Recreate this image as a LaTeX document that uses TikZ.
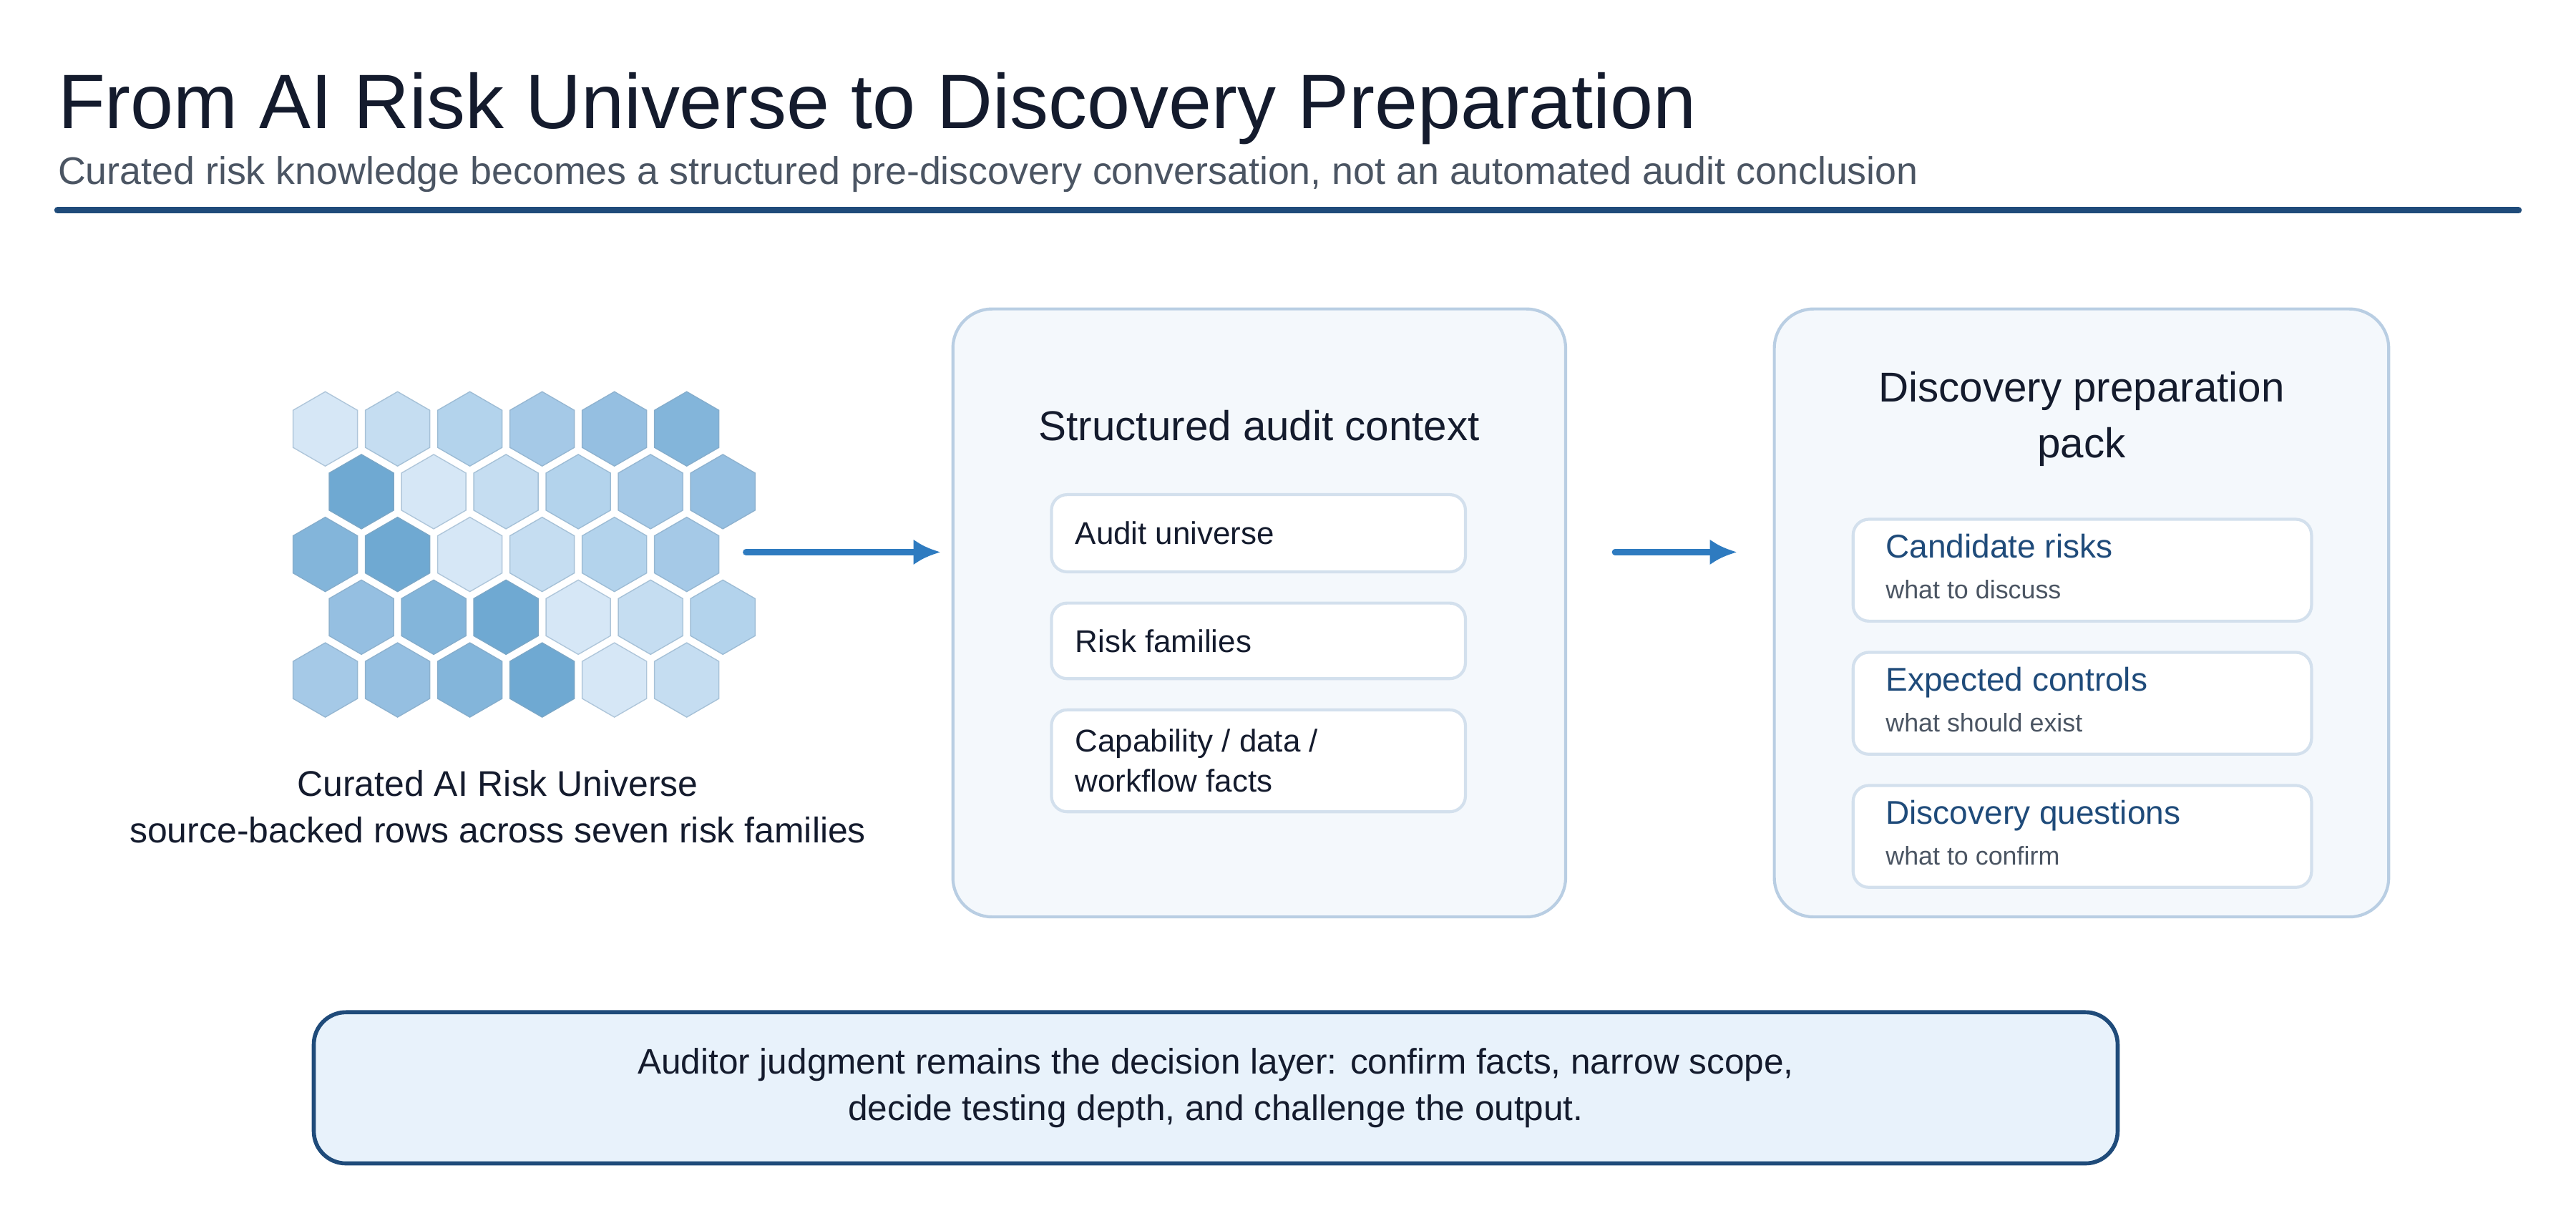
\documentclass[tikz,border=0pt]{standalone}
\usepackage{fontspec}
\setmainfont{Liberation Sans}
\usetikzlibrary{shapes.geometric,arrows.meta}
\definecolor{inkdark}{HTML}{141B2D}
\definecolor{inkgray}{HTML}{4B5563}
\definecolor{navy}{HTML}{1F4B7A}
\definecolor{arrowblue}{HTML}{2E7BC0}
\definecolor{panelfill}{HTML}{F4F8FC}
\definecolor{panelline}{HTML}{B9CEE3}
\definecolor{itemline}{HTML}{D3E0ED}
\definecolor{notefill}{HTML}{E8F2FB}
\definecolor{hexlv1}{HTML}{D6E7F6}
\definecolor{hexlv2}{HTML}{C5DDF1}
\definecolor{hexlv3}{HTML}{B3D3EC}
\definecolor{hexlv4}{HTML}{A5C9E7}
\definecolor{hexlv5}{HTML}{95BFE1}
\definecolor{hexlv6}{HTML}{83B5DA}
\definecolor{hexlv7}{HTML}{6FA9D2}
\tikzset{
  hexcell/.style={regular polygon, regular polygon sides=6, shape border rotate=30,
    inner sep=0pt, minimum size=1.04cm, draw=#1!85!black!60!hexlv4, line width=0.4pt, fill=#1},
  panel/.style={draw=panelline, fill=panelfill, line width=1.2pt, rounded corners=0.55cm},
  item/.style={draw=itemline, fill=white, line width=1.2pt, rounded corners=0.22cm},
  flow/.style={-{Latex[length=0.38cm,width=0.36cm]}, line width=2.4pt, draw=arrowblue, line cap=round},
}
\begin{document}
\begin{tikzpicture}[x=0.02296cm, y=-0.02296cm]
  \useasboundingbox (0,0) rectangle (1568,743);

  % heading
  \node[anchor=base west, inner sep=0pt, text=inkdark, font=\fontsize{30.7}{34}\selectfont] (title) at (35,78) {From AI Risk Universe to Discovery Preparation};
  \node[anchor=base west, inner sep=0pt, text=inkgray, font=\fontsize{15.3}{18}\selectfont] (subtitle) at (35,112) {Curated risk knowledge becomes a structured pre-discovery conversation, not an automated audit conclusion};
  \coordinate (ruleL) at (35,128);
  \coordinate (ruleR) at (1533,128);
  \draw[navy, line width=2.6pt, line cap=round] (ruleL) -- (ruleR);

  % risk universe hex field
  \foreach \r in {0,...,4}{
    \foreach \c in {0,...,5}{
      \pgfmathtruncatemacro{\lvl}{mod(\c-\r+7,7)+1}
      \pgfmathsetmacro{\hx}{198+44*\c+22*mod(\r,2)}
      \node[hexcell=hexlv\lvl] (hex-\r-\c) at (\hx,261+38.2*\r) {};
    }
  }
  \node[align=center, text=inkdark, font=\fontsize{14.2}{18.5}\selectfont] (universe) at (303,491) {Curated AI Risk Universe\\source-backed rows across seven risk families};

  % structured audit context
  \node[panel, minimum width=373*0.02296cm, minimum height=370*0.02296cm] (context) at (766.5,373) {};
  \node[text=inkdark, font=\fontsize{16.6}{19}\selectfont] (contexttitle) at (766.5,259) {Structured audit context};
  \node[item, minimum width=252*0.02296cm, minimum height=47*0.02296cm] (ctx1) at (766,324.5) {};
  \node[item, minimum width=252*0.02296cm, minimum height=46*0.02296cm] (ctx2) at (766,390) {};
  \node[item, minimum width=252*0.02296cm, minimum height=62*0.02296cm] (ctx3) at (766,463) {};
  \node[anchor=west, text=inkdark, font=\fontsize{12.5}{15}\selectfont] at ([xshift=0.23cm]ctx1.west) {Audit universe};
  \node[anchor=west, text=inkdark, font=\fontsize{12.5}{15}\selectfont] at ([xshift=0.23cm]ctx2.west) {Risk families};
  \node[anchor=west, align=left, text=inkdark, font=\fontsize{12.5}{15.8}\selectfont] at ([xshift=0.23cm]ctx3.west) {Capability / data /\\workflow facts};

  % discovery preparation pack
  \node[panel, minimum width=374*0.02296cm, minimum height=370*0.02296cm] (pack) at (1267,373) {};
  \node[align=center, text=inkdark, font=\fontsize{16.6}{22}\selectfont] (packtitle) at (1267,255) {Discovery preparation\\pack};
  \foreach \name/\head/\sub/\yy in {cand/Candidate risks/what to discuss/347,
                                      ctrl/Expected controls/what should exist/428,
                                      ques/Discovery questions/what to confirm/509}{
    \node[item, minimum width=279*0.02296cm, minimum height=62*0.02296cm] (\name) at (1267.5,\yy) {};
    \node[anchor=base west, text=navy, font=\fontsize{13.1}{15}\selectfont, inner sep=0pt] at ([xshift=0.47cm, yshift=0.17cm]\name.west) {\head};
    \node[anchor=base west, text=inkgray, font=\fontsize{10.2}{12}\selectfont, inner sep=0pt] at ([xshift=0.47cm, yshift=-0.40cm]\name.west) {\sub};
  }

  % flow arrows
  \coordinate (a1s) at (454,336);
  \coordinate (a2s) at (983,336);
  \draw[flow] (a1s) -- ([xshift=-0.15cm]context.west |- a1s);
  \draw[flow] (a2s) -- ([xshift=-0.5cm]pack.west |- a2s);

  % auditor note
  \node[draw=navy, fill=notefill, line width=1.6pt, rounded corners=0.45cm,
        minimum width=1098*0.02296cm, minimum height=92*0.02296cm,
        align=center, text=inkdark, font=\fontsize{14.1}{18.5}\selectfont] (note) at (740,662)
        {Auditor judgment remains the decision layer: confirm facts, narrow scope,\\decide testing depth, and challenge the output.};
\end{tikzpicture}
\end{document}
